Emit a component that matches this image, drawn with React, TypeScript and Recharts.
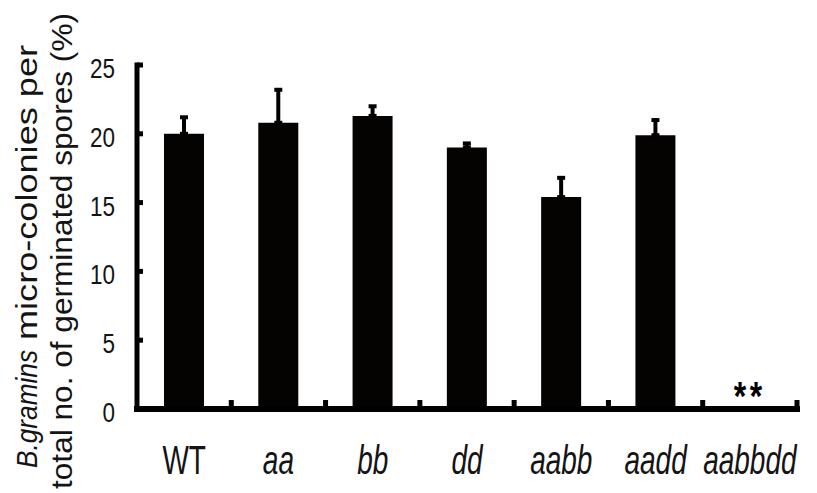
import React from 'react';
import { BarChart, Bar, XAxis, YAxis, ErrorBar } from 'recharts';

const categories = ['WT', 'aa', 'bb', 'dd', 'aabb', 'aadd', 'aabbdd'];
const italicFlags = [false, true, true, true, true, true, true];
const means = [20.0, 20.8, 21.3, 19.0, 15.4, 19.9, 0];
const upperErrors = [1.2, 2.4, 0.7, 0.3, 1.4, 1.1, 0];
const significance = ['', '', '', '', '', '', '**'];
const yTicks = [0, 5, 10, 15, 20, 25];

const data = categories.map((c, i) => ({
  name: c,
  value: means[i],
  err: [0, upperErrors[i]],
}));

const FONT = '"Liberation Sans", Arial, Helvetica, sans-serif';
const TEXT = '#141414';

const XTick = (props: any) => {
  const { x, y, payload, index, width, visibleTicksCount } = props;
  const count = visibleTicksCount || categories.length;
  const catW = (width || 660) / count;
  const bx = x + catW / 2;
  const italic = italicFlags[index] ?? true;
  const sig = significance[index];
  return (
    <g>
      <line x1={bx} x2={bx} y1={y - 2} y2={y - 9} stroke="#000" strokeWidth={5} />
      {sig ? (
        <text
          transform={`translate(${x}, ${y + 1}) scale(1, 1.25)`}
          textAnchor="middle"
          fontFamily={FONT}
          fontSize={32}
          fontWeight="bold"
          letterSpacing={3.6}
          fill="#000"
        >
          {sig}
        </text>
      ) : null}
      <text
        transform={`translate(${x}, ${y + 65}) scale(1, 1.45)`}
        textAnchor="middle"
        fontFamily={FONT}
        fontSize={28}
        fontStyle={italic ? 'italic' : 'normal'}
        fill={TEXT}
      >
        {payload.value}
      </text>
    </g>
  );
};

const YTick = (props: any) => {
  const { x, y, payload } = props;
  return (
    <g>
      <line x1={x} x2={x + 6} y1={y} y2={y} stroke="#000" strokeWidth={5} />
      <text
        transform={`translate(${x - 22}, ${y + 3}) scale(1, 1.25)`}
        textAnchor="end"
        dominantBaseline="central"
        fontFamily={FONT}
        fontSize={22.5}
        fill={TEXT}
      >
        {payload.value}
      </text>
    </g>
  );
};

const YLabel = (props: any) => {
  const vb = props.viewBox || { x: 0, y: 57, width: 129, height: 344 };
  const bottom = vb.y + vb.height;
  const start1 = bottom + 59;
  const start2 = bottom + 80;
  return (
    <g fontFamily={FONT} fontSize={29} fill={TEXT}>
      <text
        transform={`translate(${vb.x + 29}, ${start1}) rotate(-90)`}
        textAnchor="start"
        fontStyle="italic"
        textLength={118}
        lengthAdjust="spacingAndGlyphs"
      >
        B.gramins
      </text>
      <text
        transform={`translate(${vb.x + 29}, ${start1 - 128}) rotate(-90)`}
        textAnchor="start"
        textLength={295}
        lengthAdjust="spacingAndGlyphs"
      >
        micro-colonies per
      </text>
      <text
        transform={`translate(${vb.x + 64}, ${start2}) rotate(-90)`}
        textAnchor="start"
        textLength={476}
        lengthAdjust="spacingAndGlyphs"
      >
        total no. of germinated spores (%)
      </text>
    </g>
  );
};

export default function App() {
  return (
    <div style={{ width: 809, height: 485, background: '#fff' }}>
      <BarChart
        width={809}
        height={485}
        data={data}
        margin={{ top: 57, right: 20, left: 0, bottom: 24 }}
        barCategoryGap={0}
      >
        <XAxis
          dataKey="name"
          height={60}
          interval={0}
          tickLine={false}
          tickSize={0}
          tickMargin={0}
          axisLine={{ stroke: '#000', strokeWidth: 6, strokeLinecap: 'square' }}
          tick={<XTick />}
        />
        <YAxis
          width={129}
          domain={[0, 25]}
          ticks={yTicks}
          interval={0}
          tickLine={false}
          tickSize={0}
          tickMargin={0}
          axisLine={{ stroke: '#000', strokeWidth: 5, strokeLinecap: 'square' }}
          tick={<YTick />}
          label={{ content: <YLabel /> }}
        />
        <Bar dataKey="value" fill="#050202" barSize={40} isAnimationActive={false}>
          <ErrorBar dataKey="err" direction="y" width={4} strokeWidth={4} stroke="#000" isAnimationActive={false} />
        </Bar>
      </BarChart>
    </div>
  );
}
